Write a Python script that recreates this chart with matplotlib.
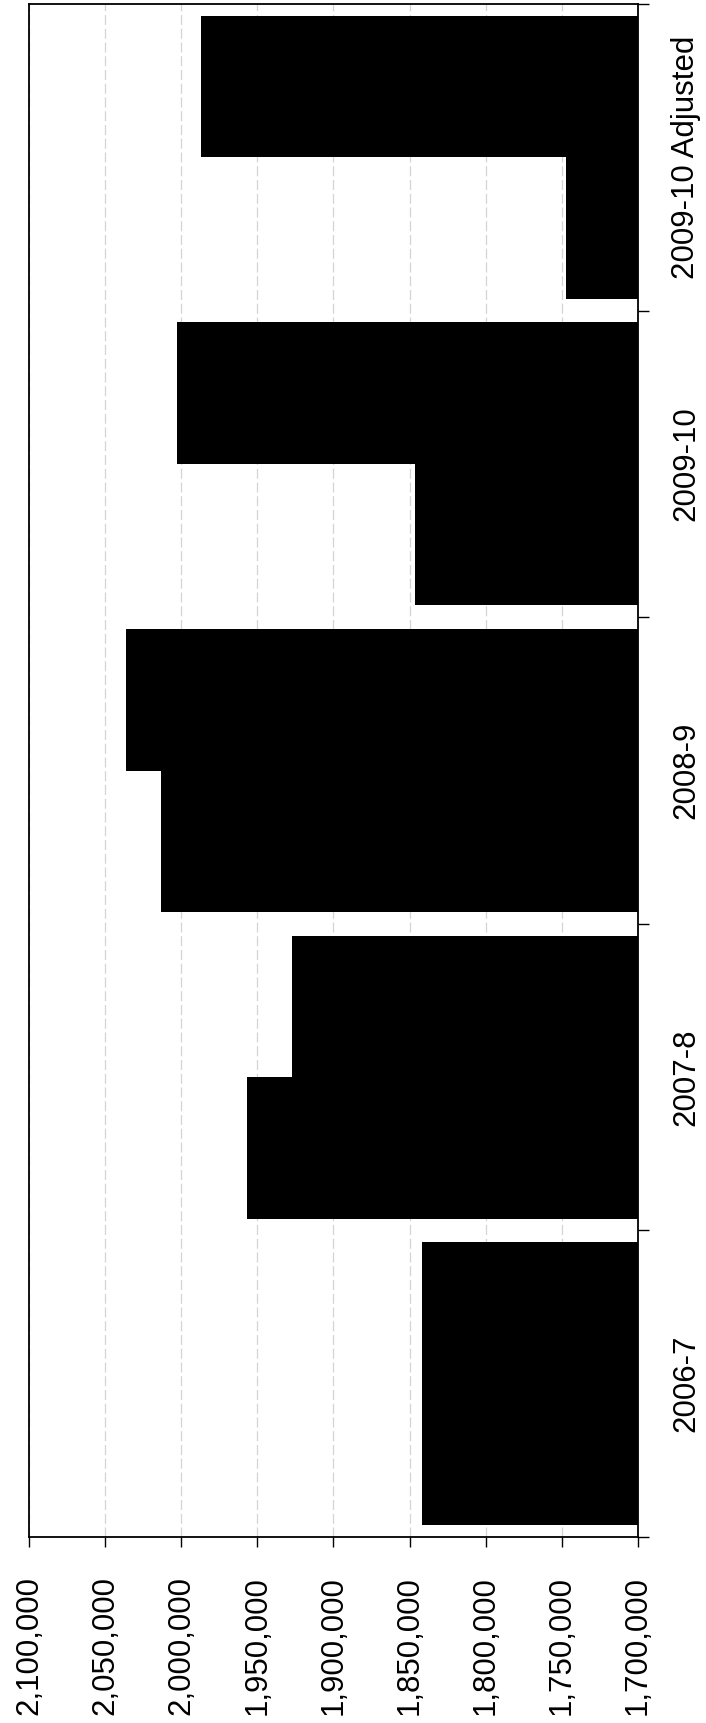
import numpy as np
import matplotlib.pyplot as plt
from matplotlib.ticker import FuncFormatter, MultipleLocator

plt.rcParams['font.family'] = ['Liberation Sans', 'DejaVu Sans']

# Data: two series per year, drawn as paired horizontal bars
categories = ['2006-7', '2007-8', '2008-9', '2009-10', '2009-10 Adjusted']
series_a = [1842000, 1956500, 2013500, 1846500, 1747500]
series_b = [1842000, 1927500, 2036500, 2002500, 1987000]

axis_min = 1700000
axis_max = 2100000

fig = plt.figure(figsize=(7.06, 17.23), dpi=100)
ax = fig.add_axes([29 / 706, (1723 - 1537) / 1723, (638 - 29) / 706, (1537 - 4) / 1723])

y = np.arange(len(categories))
h = 0.4615

ax.barh(y - h / 2, np.array(series_a) - axis_min, left=axis_min, height=h,
        color='black', edgecolor='none', zorder=3)
ax.barh(y + h / 2, np.array(series_b) - axis_min, left=axis_min, height=h,
        color='black', edgecolor='none', zorder=3)

# values grow to the left
ax.set_xlim(axis_max, axis_min)
ax.set_ylim(-0.5, len(categories) - 0.5)

ax.xaxis.set_major_locator(MultipleLocator(50000))
ax.xaxis.set_major_formatter(FuncFormatter(lambda v, p: f'{v:,.0f}'))
ax.grid(axis='x', color='#d4d4d4', lw=0.9, linestyle=(0, (8, 3)), zorder=0)
ax.set_axisbelow(True)

ax.tick_params(axis='x', direction='out', length=7, width=1, pad=21,
               labelsize=22.5, labelrotation=90, colors='black')

# category axis on the right, ticks between groups
ax.yaxis.tick_right()
ax.set_yticks(y)
ax.set_yticklabels(categories, rotation=90, va='center', ha='left')
ax.set_yticks(np.arange(len(categories) + 1) - 0.5, minor=True)
ax.tick_params(axis='y', which='major', length=0, pad=24, labelsize=22.5)
ax.tick_params(axis='y', which='minor', direction='out', length=8, width=1)

for s in ax.spines.values():
    s.set_linewidth(1.3)
    s.set_color('black')

fig.savefig('out.png', dpi=100, facecolor='white')
